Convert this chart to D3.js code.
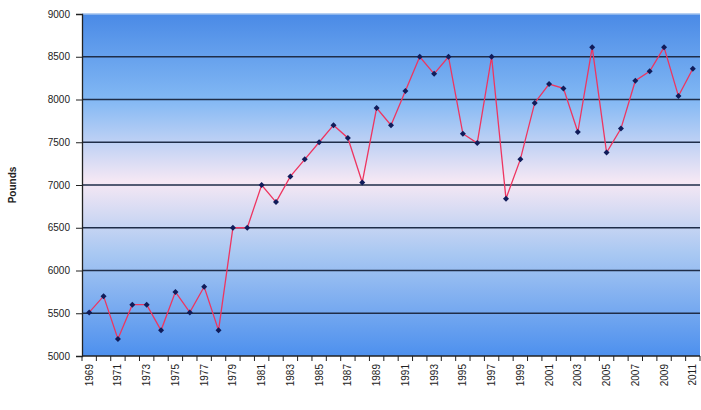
<!DOCTYPE html>
<html><head><meta charset="utf-8">
<script src="https://cdn.jsdelivr.net/npm/d3@7"></script>
<style>body{margin:0;background:#fff;}svg{display:block;font-family:Arial,"Liberation Sans",sans-serif;}</style>
</head><body><svg id="c" width="701" height="410"></svg>
<script>
const years = d3.range(1969, 2012);
const pounds = [5510,5700,5200,5600,5600,5300,5750,5510,5810,5300,
  6500,6500,7000,6800,7100,7300,7500,7700,7550,7030,
  7900,7700,8100,8500,8300,8500,7600,7490,8500,6840,
  7300,7960,8180,8130,7620,8610,7380,7660,8220,8330,
  8610,8040,8360];
const yTicks = [5000,5500,6000,6500,7000,7500,8000,8500,9000];
const xLabelYears = years.filter(y => (y - 1969) % 2 === 0);

const svg = d3.select("#c");
const L = 82, R = 700, T = 14, B = 356;
const x = d3.scaleBand().domain(years).range([L, R]).paddingInner(0).paddingOuter(0);
const y = d3.scaleLinear().domain([5000, 9000]).range([B, T]);

const defs = svg.append("defs");
const g = defs.append("linearGradient").attr("id","bg").attr("x1",0).attr("y1",0).attr("x2",0).attr("y2",1);
g.append("stop").attr("offset","0%").attr("stop-color","#4a8ae6");
g.append("stop").attr("offset","25%").attr("stop-color","#82b8f4");
g.append("stop").attr("offset","49%").attr("stop-color","#f6e8f4");
g.append("stop").attr("offset","70%").attr("stop-color","#a9c8f2");
g.append("stop").attr("offset","100%").attr("stop-color","#4d90ee");

svg.append("rect").attr("x", L).attr("y", T).attr("width", R - L).attr("height", B - T).attr("fill","url(#bg)");

// gridlines
svg.append("g").selectAll("line").data(yTicks.slice(1)).join("line")
  .attr("x1", L).attr("x2", R).attr("y1", d => y(d)).attr("y2", d => y(d))
  .attr("stroke", d => d === 9000 ? "#9fc0ee" : "#1f2d48").attr("stroke-width", 1.4);

// y axis
const ya = svg.append("g").attr("transform", `translate(${L},0)`)
  .call(d3.axisLeft(y).tickValues(yTicks).tickSize(6).tickPadding(6).tickFormat(d3.format("d")));
ya.select(".domain").attr("stroke","#222").attr("stroke-width",1.3);
ya.selectAll(".tick line").attr("stroke","#222");
ya.selectAll("text").attr("font-size", 10).attr("fill","#222");

// x axis
const boundaries = years.map(d => x(d)).concat([R]);
const xa = svg.append("g").attr("transform", `translate(0,${B})`);
xa.append("line").attr("x1", L).attr("x2", R).attr("stroke","#222").attr("stroke-width",1.3);
xa.selectAll("line.tk").data(boundaries).join("line").attr("class","tk")
  .attr("x1", d => d).attr("x2", d => d).attr("y1", 0).attr("y2", 5).attr("stroke","#222");
xa.selectAll("text").data(xLabelYears).join("text")
  .attr("transform", d => `translate(${x(d) + x.bandwidth()/2 + 3.5},8) rotate(-90)`)
  .attr("text-anchor","end").attr("font-size", 10).attr("fill","#222").text(d => d);

// y title
svg.append("text").attr("transform", `translate(16,${(T+B)/2}) rotate(-90)`)
  .attr("text-anchor","middle").attr("font-size", 10).attr("font-weight","bold").attr("fill","#222").text("Pounds");

// line
const cx = (d, i) => x(years[i]) + x.bandwidth()/2;
svg.append("path").datum(pounds)
  .attr("d", d3.line().x(cx).y(d => y(d)))
  .attr("fill","none").attr("stroke","#ee3560").attr("stroke-width",1.3);

svg.append("g").selectAll("path").data(pounds).join("path")
  .attr("transform", (d, i) => `translate(${cx(d,i)},${y(d)}) rotate(45)`)
  .attr("d", d3.symbol().type(d3.symbolSquare).size(18))
  .attr("fill","#101c5a");
</script></body></html>
